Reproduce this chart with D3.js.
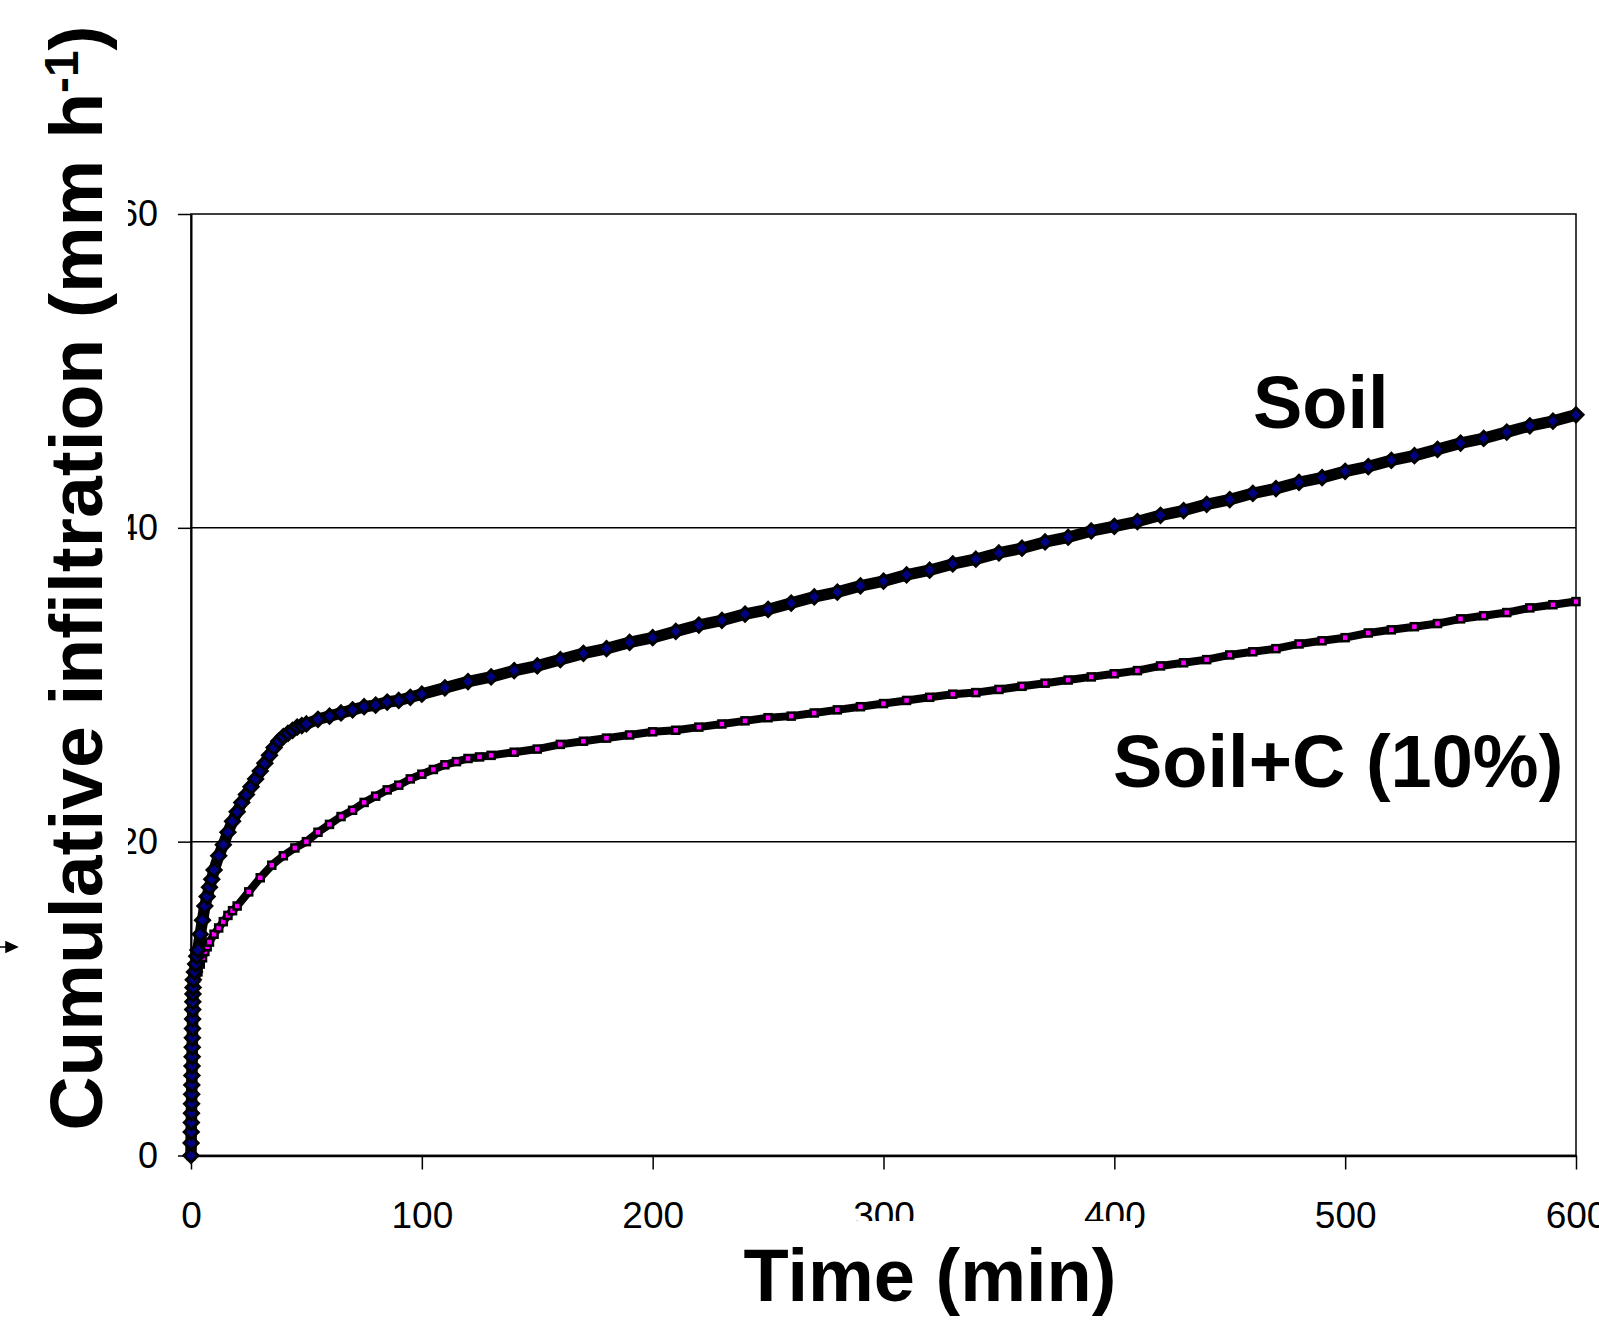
<!DOCTYPE html>
<html>
<head>
<meta charset="utf-8">
<script src="https://cdn.jsdelivr.net/npm/d3@7"></script>
<style>
  body { margin: 0; background: #fff; }
  svg { display: block; font-family: "Liberation Sans", Arial, sans-serif; }
</style>
</head>
<body>
<div id="chart"></div>
<script>
// Soil series (diamonds): time in min, cumulative infiltration
const soilTime = [0, 0.05, 0.1, 0.15, 0.2, 0.25, 0.3, 0.35, 0.4, 0.45, 0.5, 0.55, 0.6, 0.65, 0.7, 0.75, 0.8, 0.85, 0.9, 1,
    1.5, 2, 2.5, 3, 4, 5, 6, 7, 8, 9, 10,
    12, 14, 16, 18, 20, 22, 24, 26, 28, 30, 32, 34, 36, 38, 40, 42, 44, 46, 48, 50,
    55, 60, 65, 70, 75, 80, 85, 90, 95, 100,
    110, 120, 130, 140, 150, 160, 170, 180, 190, 200, 210, 220, 230, 240, 250, 260, 270, 280, 290, 300,
    310, 320, 330, 340, 350, 360, 370, 380, 390, 400, 410, 420, 430, 440, 450, 460, 470, 480, 490, 500,
    510, 520, 530, 540, 550, 560, 570, 580, 590, 600];
const soilValues = [0, 0.8, 1.5, 2.1, 2.7, 3.3, 3.9, 4.5, 5.1, 5.7, 6.3, 6.9, 7.5, 8.1, 8.7, 9.3, 9.8, 10.3, 10.7, 11.2,
    11.7, 12.2, 12.7, 13.1, 14.1, 15.0, 15.9, 16.5, 17.1, 17.6, 18.2,
    19.1, 19.8, 20.6, 21.3, 21.9, 22.5, 23.0, 23.5, 24.0, 24.5, 25.0, 25.5, 26.0, 26.4, 26.7, 26.9, 27.1, 27.3, 27.4, 27.5,
    27.8, 28.0, 28.2, 28.4, 28.6, 28.7, 28.9, 29.0, 29.2, 29.4,
    29.8, 30.2, 30.5, 30.9, 31.2, 31.6, 32.0, 32.3, 32.7, 33.0, 33.4, 33.8, 34.1, 34.5, 34.8, 35.2, 35.6, 35.9, 36.3, 36.6,
    37.0, 37.3, 37.7, 38.0, 38.4, 38.7, 39.1, 39.4, 39.8, 40.1, 40.4, 40.8, 41.1, 41.5, 41.8, 42.2, 42.5, 42.9, 43.2, 43.6,
    43.9, 44.3, 44.6, 45.0, 45.4, 45.7, 46.1, 46.5, 46.8, 47.2];

// Soil+C (10%) series (squares)
const carbonTime = [0, 0.05, 0.1, 0.15, 0.2, 0.25, 0.3, 0.35, 0.4, 0.45, 0.5, 0.55, 0.6, 0.65, 0.7, 0.75, 0.8,
    0.9, 1, 1.5, 2, 3, 4, 5, 6, 7, 8, 10, 12, 14, 16, 18, 20,
    25, 30, 35, 40, 45, 50, 55, 60, 65, 70, 75, 80, 85, 90, 95, 100, 105, 110, 115, 120, 125, 130,
    140, 150, 160, 170, 180, 190, 200,
    210, 220, 230, 240, 250, 260, 270, 280, 290, 300,
    310, 320, 330, 340, 350, 360, 370, 380, 390, 400,
    410, 420, 430, 440, 450, 460, 470, 480, 490, 500,
    510, 520, 530, 540, 550, 560, 570, 580, 590, 600];
const carbonValues = [0, 0.6, 1.2, 1.8, 2.4, 3.0, 3.6, 4.2, 4.8, 5.4, 6.0, 6.6, 7.2, 7.8, 8.4, 8.9, 9.4,
    10.0, 10.5, 11.0, 11.3, 11.7, 12.2, 12.6, 13.0, 13.3, 13.6, 14.1, 14.5, 14.9, 15.3, 15.6, 15.9,
    16.8, 17.7, 18.5, 19.1, 19.6, 20.0, 20.6, 21.1, 21.6, 22.0, 22.5, 22.9, 23.3, 23.6, 24.0, 24.3, 24.6, 24.9, 25.1, 25.3, 25.4, 25.5,
    25.7, 25.9, 26.2, 26.4, 26.6, 26.8, 27.0,
    27.1, 27.3, 27.5, 27.7, 27.9, 28.0, 28.2, 28.4, 28.6, 28.8,
    29.0, 29.2, 29.4, 29.5, 29.7, 29.9, 30.1, 30.3, 30.5, 30.7,
    30.9, 31.2, 31.4, 31.6, 31.9, 32.1, 32.3, 32.6, 32.8, 33.0,
    33.3, 33.5, 33.7, 33.9, 34.2, 34.4, 34.6, 34.9, 35.1, 35.3];

const xTicks = [0, 100, 200, 300, 400, 500, 600];
const yTicks = [0, 20, 40, 60];

// Dimensions
const width = 1599, height = 1327;
const plot = { left: 191, right: 1576, top: 214, bottom: 1155.5 };
const font = '"Liberation Sans", Arial, sans-serif';

const x = d3.scaleLinear().domain([0, 600]).range([plot.left, plot.right]);
const y = d3.scaleLinear().domain([0, 60]).range([plot.bottom, plot.top]);

const soil = d3.zip(soilTime, soilValues);
const carbon = d3.zip(carbonTime, carbonValues);

const svg = d3.select("#chart")
    .append("svg")
    .attr("width", width)
    .attr("height", height);

// Gridlines
svg.append("g")
    .selectAll("line")
    .data(yTicks.filter(d => d > 0 && d < 60))
    .join("line")
    .attr("x1", plot.left)
    .attr("x2", plot.right)
    .attr("y1", d => y(d))
    .attr("y2", d => y(d))
    .attr("stroke", "#000")
    .attr("stroke-width", 1.5);

// Plot border
svg.append("rect")
    .attr("x", plot.left)
    .attr("y", plot.top)
    .attr("width", plot.right - plot.left)
    .attr("height", plot.bottom - plot.top)
    .attr("fill", "none")
    .attr("stroke", "#000")
    .attr("stroke-width", 1.5);

// Axes
const xAxis = svg.append("g")
    .attr("transform", `translate(0,${plot.bottom})`)
    .call(d3.axisBottom(x).tickValues(xTicks).tickSize(14).tickSizeOuter(0));
xAxis.select(".domain").attr("stroke-width", 2.5);
xAxis.selectAll(".tick line").attr("stroke-width", 1.5);
xAxis.selectAll("text")
    .attr("y", 72.5)
    .attr("dy", 0)
    .attr("font-family", font)
    .attr("font-size", 37)
    .attr("fill", "#000");

const yAxis = svg.append("g")
    .attr("transform", `translate(${plot.left},0)`)
    .call(d3.axisLeft(y).tickValues(yTicks).tickSize(13).tickPadding(20).tickSizeOuter(0));
yAxis.select(".domain").attr("stroke-width", 2);
yAxis.selectAll(".tick line").attr("stroke-width", 1.5);
yAxis.selectAll("text")
    .attr("font-family", font)
    .attr("font-size", 36)
    .attr("fill", "#000");

// Series bands (markers overlap so densely they read as a black band)
const line = d3.line()
    .x(d => x(d[0]))
    .y(d => y(d[1]));

svg.append("path")
    .datum(carbon)
    .attr("fill", "none")
    .attr("stroke", "#000")
    .attr("stroke-width", 8)
    .attr("stroke-linejoin", "round")
    .attr("d", line);

svg.append("path")
    .datum(soil)
    .attr("fill", "none")
    .attr("stroke", "#000")
    .attr("stroke-width", 11.5)
    .attr("stroke-linejoin", "round")
    .attr("d", line);

// Markers
svg.append("g")
    .selectAll("rect")
    .data(carbon)
    .join("rect")
    .attr("x", d => x(d[0]) - 3.5)
    .attr("y", d => y(d[1]) - 3.5)
    .attr("width", 7)
    .attr("height", 7)
    .attr("fill", "#ff00ff")
    .attr("stroke", "#000")
    .attr("stroke-width", 2.5);

svg.append("g")
    .selectAll("path")
    .data(soil)
    .join("path")
    .attr("d", d => {
        const cx = x(d[0]), cy = y(d[1]), r = 7;
        return `M${cx},${cy - r}L${cx + r},${cy}L${cx},${cy + r}L${cx - r},${cy}Z`;
    })
    .attr("fill", "#000080")
    .attr("stroke", "#000")
    .attr("stroke-width", 3);

// Title boxes (they cover parts of the tick labels, as in the original)
svg.append("rect")
    .attr("x", 0).attr("y", 25)
    .attr("width", 128).attr("height", 1112)
    .attr("fill", "#fff");

svg.append("rect")
    .attr("x", 725).attr("y", 1221)
    .attr("width", 410).attr("height", 106)
    .attr("fill", "#fff");

// Axis titles
svg.append("text")
    .attr("x", 930)
    .attr("y", 1301)
    .attr("text-anchor", "middle")
    .attr("font-family", font)
    .attr("font-weight", "bold")
    .attr("font-size", 74)
    .text("Time (min)");

const yTitle = svg.append("text")
    .attr("transform", "translate(102,578) rotate(-90)")
    .attr("text-anchor", "middle")
    .attr("font-family", font)
    .attr("font-weight", "bold")
    .attr("font-size", 75);
yTitle.append("tspan").text("Cumulative infiltration (mm h");
yTitle.append("tspan").attr("dy", -24).attr("font-size", 48).text("-1");
yTitle.append("tspan").attr("dy", 24).text(")");

// Series labels
svg.append("text")
    .attr("x", 1253)
    .attr("y", 428)
    .attr("font-family", font)
    .attr("font-weight", "bold")
    .attr("font-size", 74)
    .text("Soil");

svg.append("text")
    .attr("x", 1113)
    .attr("y", 787)
    .attr("font-family", font)
    .attr("font-weight", "bold")
    .attr("font-size", 74)
    .text("Soil+C (10%)");

// Small arrow stub on the left edge
svg.append("path")
    .attr("d", "M0,947L7,947M6,942L17,947L6,952Z")
    .attr("fill", "#000")
    .attr("stroke", "#000")
    .attr("stroke-width", 1.5);
</script>
</body>
</html>
